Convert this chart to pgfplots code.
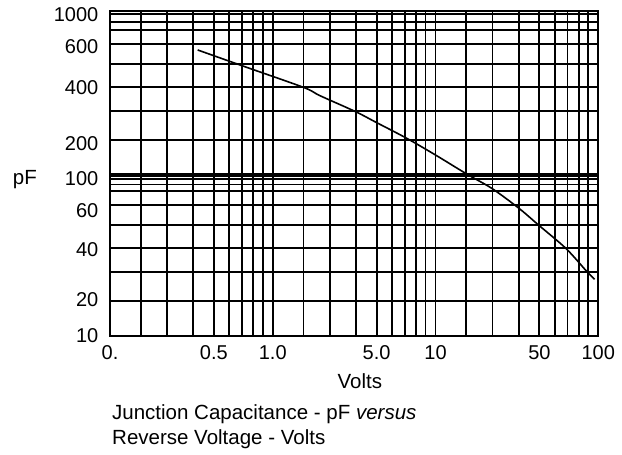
\documentclass[border=0pt]{standalone}
\usepackage{fontspec}
\setmainfont{Liberation Sans}
\usepackage{pgfplots}
\pgfplotsset{compat=1.18}
\usetikzlibrary{calc}

\begin{document}
\begin{tikzpicture}
\begin{axis}[
    name=ax,
    scale only axis,
    width=488.3pt, height=325pt,
    xmode=log, ymode=log,
    xmin=0.1, xmax=100, ymin=10, ymax=1000,
    axis line style={line width=1.8pt},
    xminorticks=false, yminorticks=false,
    major tick length=0pt,
    % labels sit where the datasheet printed them
    xtick={0.1,0.4345,1,4.345,10,43.45,100},
    xticklabels={0.,0.5,1.0,5.0,10,50,100},
    ytick={10,16.59,33.69,58.52,92.1,151.2,334.4,597.9,941},
    yticklabels={10,20,40,60,100,200,400,600,1000},
    ticklabel style={font=\fontsize{20}{24}\selectfont, inner sep=0pt},
    xticklabel style={anchor=north, yshift=-9.5pt},
    yticklabel style={anchor=east, xshift=-11.5pt},
    % the printed grid (not evenly logarithmic on the original)
    extra x ticks={0.1545,0.2239,0.3243,0.4345,0.5408,0.6471,0.7568,0.8670,1,
                   1.545,2.239,3.243,4.345,5.408,6.471,7.568,8.670,10,
                   15.45,22.39,32.43,43.45,54.08,64.71,75.68,86.70},
    extra x tick labels={},
    extra y ticks={16.42,24.77,34.50,47.99,63.73,77.70,85.20,91.86,96.11,98.87,
                   160.1,242.5,340.6,469.9,624.1,760.6,855.6,954.3},
    extra y tick labels={},
    extra tick style={grid=major},
    major grid style={black, line width=1.8pt},
]

\addplot[black, line width=1.6pt, smooth] coordinates {
    (0.3458, 573.2)
    (0.6292, 463.3)
    (1.540, 337.8)
    (1.951, 299.9)
    (3.232, 239.0)
    (4.369, 204.2)
    (6.651, 164.0)
    (10.0, 129.4)
    (15.54, 98.87)
    (22.23, 80.5)
    (32.56, 60.8)
    (42.91, 48.0)
    (63.33, 34.40)
    (85.20, 24.77)
    (94.75, 22.24)
};
\end{axis}

\node[anchor=base west, font=\fontsize{20.5}{24}\selectfont, inner sep=0pt]
    at ($(ax.south west)+(-97.3pt,150.7pt)$) {pF};
\node[anchor=base, font=\fontsize{20.5}{24}\selectfont, inner sep=0pt]
    at ($(ax.south west)+(249.8pt,-53.3pt)$) {Volts};
\node[anchor=base west, font=\fontsize{20.5}{24}\selectfont, inner sep=0pt]
    at ($(ax.south west)+(2pt,-84.3pt)$) {Junction Capacitance - pF \textit{versus}};
\node[anchor=base west, font=\fontsize{20.5}{24}\selectfont, inner sep=0pt]
    at ($(ax.south west)+(2pt,-109.3pt)$) {Reverse Voltage - Volts};

\pgfresetboundingbox
\path[use as bounding box] (ax.south west) ++(-110pt,-119.3pt) rectangle ++(622pt,455pt);
\end{tikzpicture}
\end{document}
